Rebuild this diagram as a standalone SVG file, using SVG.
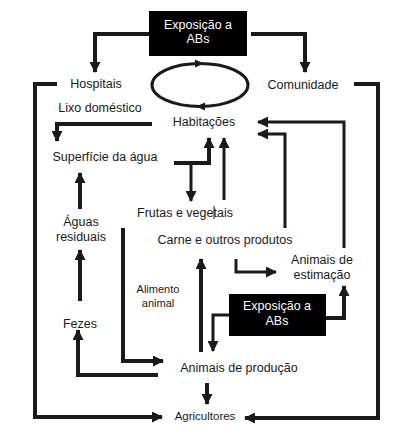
<svg xmlns="http://www.w3.org/2000/svg" width="407" height="443" viewBox="0 0 407 443">
<defs>
<marker id="ah" markerUnits="userSpaceOnUse" markerWidth="11" markerHeight="11" viewBox="0 0 11 11" refX="10" refY="5.5" orient="auto">
<path d="M0,0 L11,5.5 L0,11 Z" fill="#1a1a1a"/>
</marker>
</defs>
<style>
text{font-family:"Liberation Sans",Arial,sans-serif;font-size:12.5px;fill:#1a1a1a;text-anchor:middle}
.w{fill:#fff}
.s{font-size:11.5px}
.xs{font-size:11px}
.c path, .c line{fill:none;stroke:#1a1a1a;stroke-width:4}
.c .a{marker-end:url(#ah)}
.c .t{stroke-width:3}
.c .h{fill:#1a1a1a;stroke:none}
</style>
<rect width="407" height="443" fill="#fff"/>
<g class="c" id="connectors">
<path class="a" d="M149,34 H95 V72"/>
<path class="a" d="M251,34 H305 V72"/>
<path d="M57,84 H35 V417 H162" class="a"/>
<path d="M354,84 H378 V418 H245" class="a"/>
<path class="a" d="M152,124 H57 V141"/>
<path class="a t" d="M344,248 V122 H258"/>
<path class="a t" d="M285,228 V134 H258"/>
<path class="a" d="M174,163 H209 V138"/>
<path class="a t" d="M224,200 V138"/>
<path class="a t" d="M191,163 V201"/>
<path class="a t" d="M236,259 V272 H276"/>
<path class="a" d="M80,209 V173"/>
<path class="a" d="M80,301 V250"/>
<path class="a" d="M158,375 H78 V330"/>
<path class="a" d="M123,228 V361 H163"/>
<path class="a" d="M207,383 V404"/>
<path class="a" d="M201,352 V259"/>
<path class="a t" d="M229,315 H213 V351"/>
<path class="a" d="M326,318 H344 V286"/>
<ellipse cx="200" cy="85" rx="48" ry="21.5" fill="none" stroke="#1a1a1a" stroke-width="3"/>
<path class="h" d="M195,59.5 L204,63.5 L195,67.5 Z"/>
<path class="h" d="M205,102.5 L196,106.5 L205,110.5 Z"/>
<line x1="214" y1="206" x2="214" y2="219" style="stroke-width:1"/>
</g>
<g id="expo-top"><rect x="149" y="11" width="98" height="45" fill="#000"/><text class="w" x="198" y="28.5">Exposição a</text><text class="w" x="198" y="42.5">ABs</text></g>
<g id="hospitais"><text x="96" y="88">Hospitais</text></g>
<g id="comunidade"><text x="303" y="89">Comunidade</text></g>
<g id="lixo"><text x="100" y="112">Lixo doméstico</text></g>
<g id="habitacoes"><text x="204" y="126">Habitações</text></g>
<g id="superficie"><text x="105" y="161">Superfície da água</text></g>
<g id="frutas"><text x="185" y="217">Frutas e vegetais</text></g>
<g id="carne"><text x="225" y="244">Carne e outros produtos</text></g>
<g id="aguas"><text x="81" y="226">Águas</text><text x="81" y="241">residuais</text></g>
<g id="estimacao"><text x="322" y="264">Animais de</text><text x="322" y="279">estimação</text></g>
<g id="fezes"><text x="80" y="328">Fezes</text></g>
<g id="alimento"><text class="xs" x="158" y="293">Alimento</text><text class="xs" x="158" y="307">animal</text></g>
<g id="expo-bottom"><rect x="229" y="294" width="97" height="42" fill="#000"/><text class="w" x="277" y="309.5">Exposição a</text><text class="w" x="277" y="324.5">ABs</text></g>
<g id="producao"><text x="239" y="372">Animais de produção</text></g>
<g id="agricultores"><text class="s" x="205" y="420">Agricultores</text></g>
</svg>
